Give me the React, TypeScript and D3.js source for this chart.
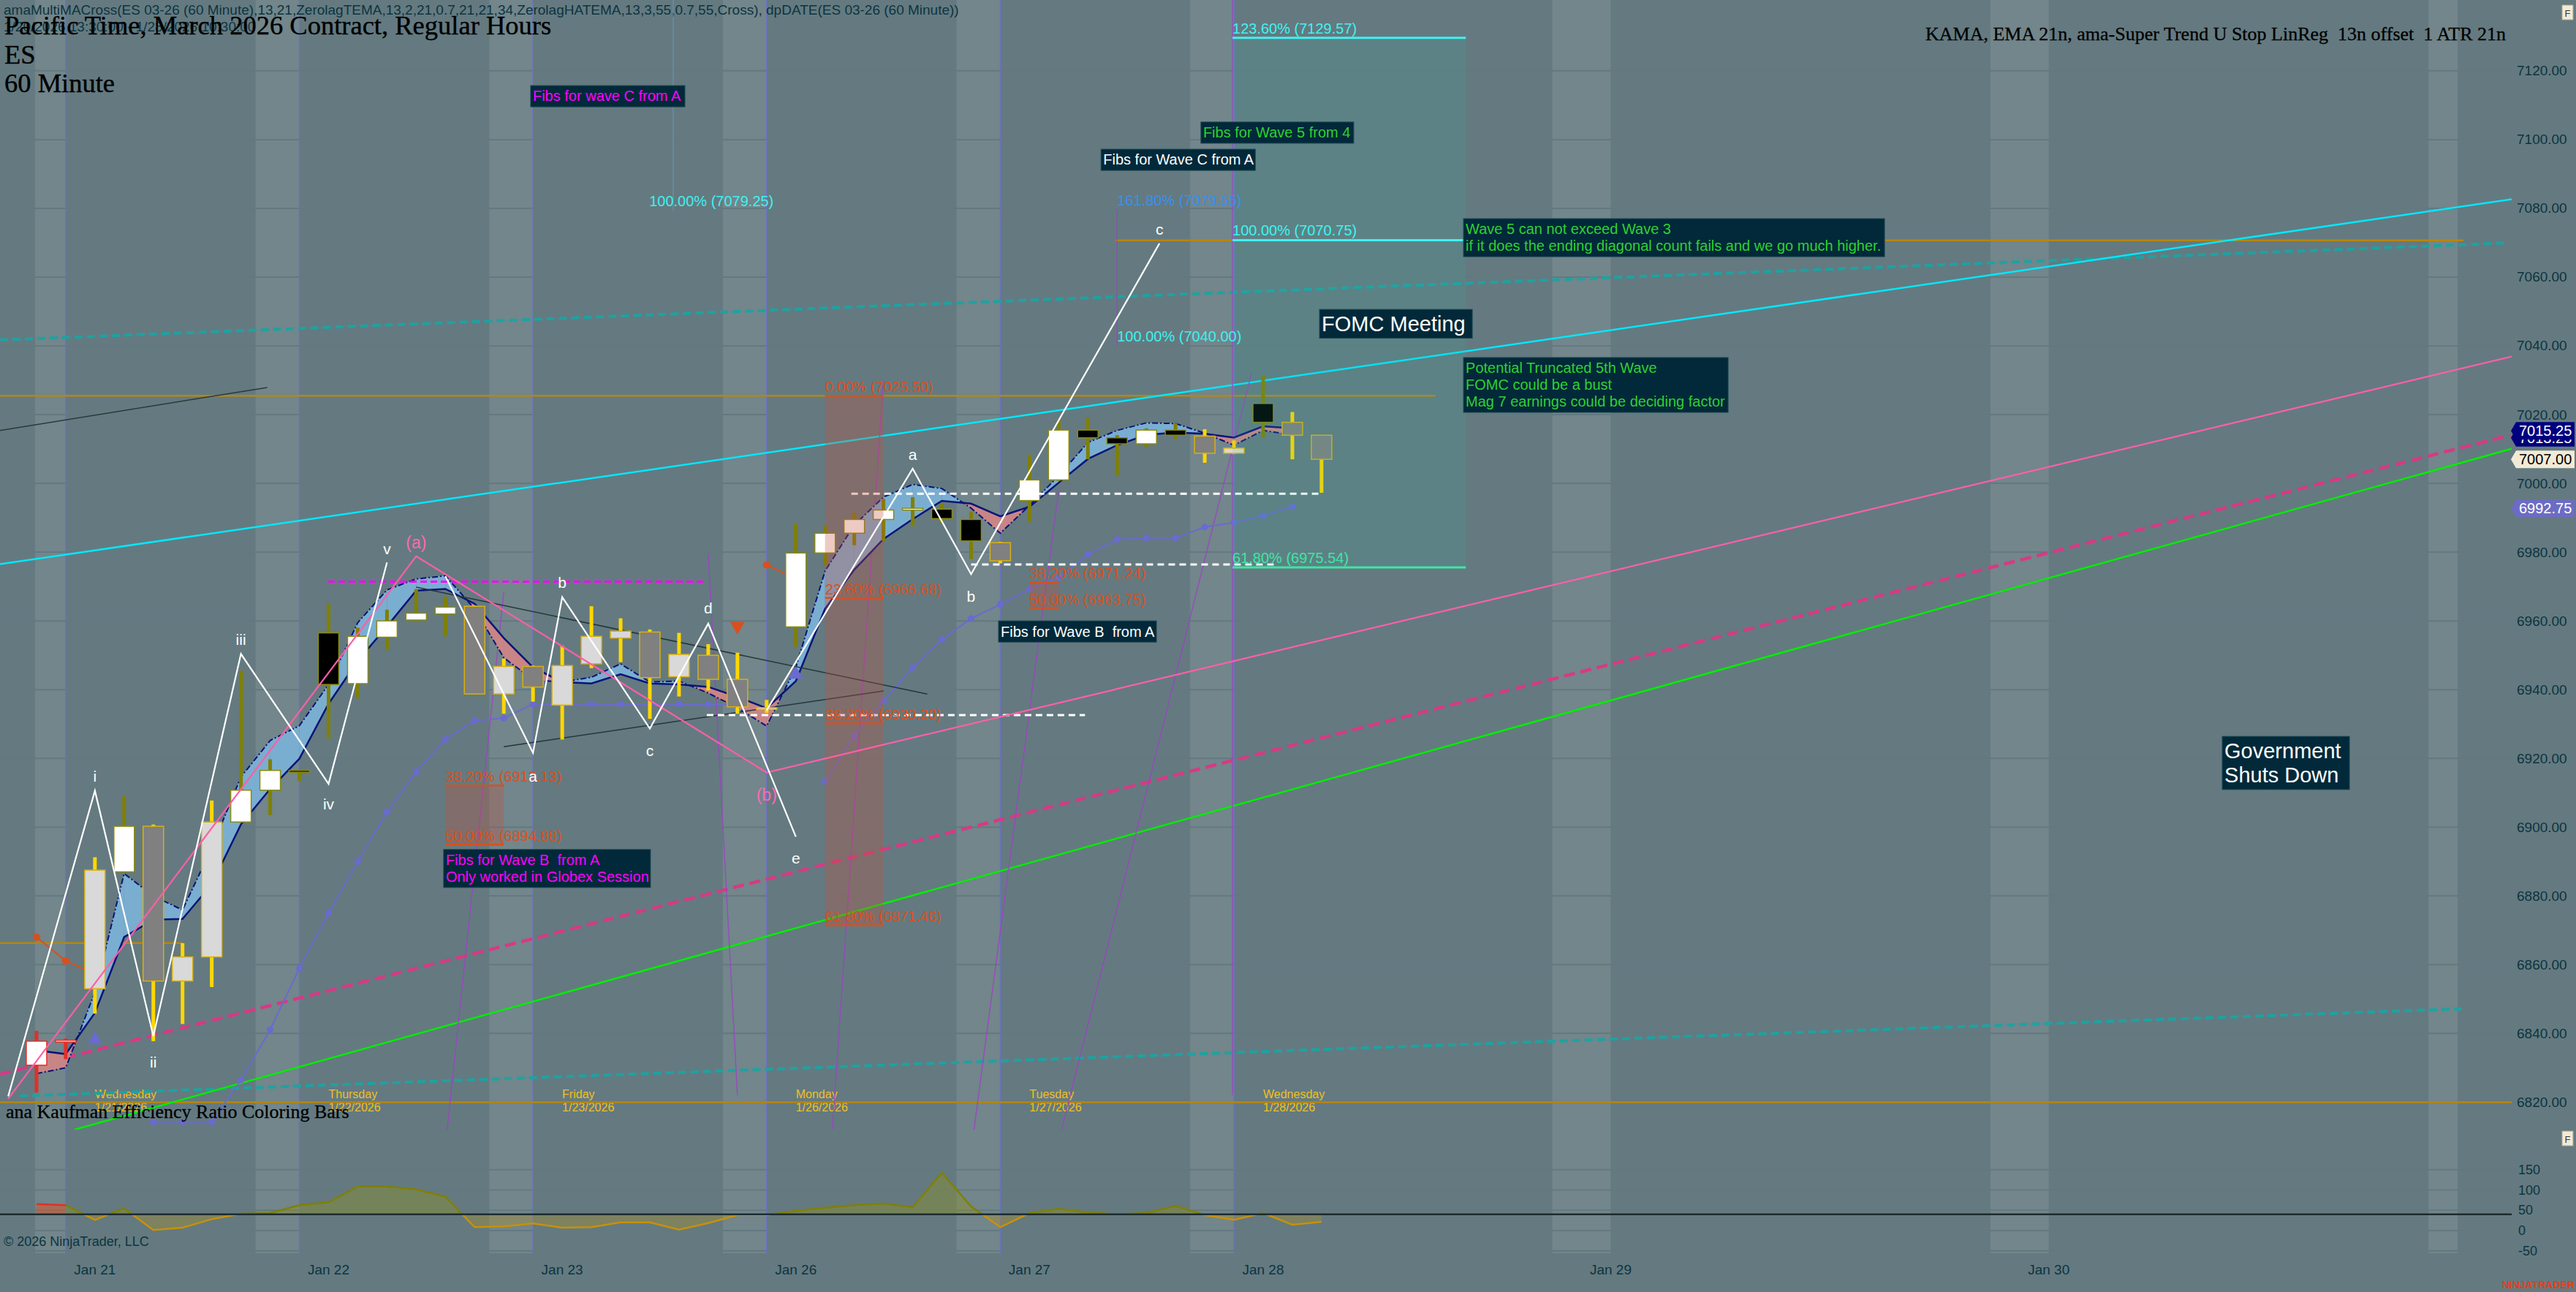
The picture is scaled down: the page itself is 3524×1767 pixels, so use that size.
import React from 'react'
import * as d3 from 'd3'

// ---- bar data (60 minute ES 03-26, regular hours) ----
const opens = [6830.75, 6837.75, 6853, 6887, 6900.25, 6855.25, 6862.25, 6901.5, 6910.75, 6916.5,
  6956.5, 6941.75, 6955.25, 6960.25, 6962, 6964.25, 6938.75, 6946.75, 6935.5, 6947.5,
  6955, 6956.75, 6943.75, 6950, 6943, 6934.5, 6958.25, 6979.75, 6985.5, 6989.5,
  6992.25, 6992.5, 6989.5, 6982.75, 6995, 7001, 7015.5, 7013.25, 7011.5, 7015.5,
  7013.75, 7008.75, 7023.25, 7017.75, 7014]
const highs = [6840.75, 6838.5, 6891.25, 6909, 6900.75, 6866.25, 6907.75, 6945.5, 6919.75, 6916.75,
  6965, 6958, 6963.25, 6969.25, 6967, 6964.5, 6949, 6947, 6952.75, 6964.25,
  6960.75, 6957.5, 6956.5, 6953.25, 6950.75, 6937, 6988.25, 6987.75, 6991.5, 6995.5,
  6996, 6994.25, 6991.75, 6983, 7008.25, 7018.5, 7019, 7014, 7016, 7017.5,
  7015.75, 7012.5, 7031.5, 7020.75, 7014]
const lows = [6822.75, 6832.5, 6845.75, 6886.75, 6837.75, 6842.75, 6853.5, 6901.25, 6903.5, 6913.5,
  6925.75, 6937.5, 6951.5, 6960, 6955.5, 6938.75, 6933, 6936.5, 6925.5, 6946.25,
  6948, 6931.5, 6938, 6939.75, 6933, 6933.25, 6952.5, 6976.25, 6982, 6983.25,
  6987.5, 6988.5, 6978, 6976.75, 6988.75, 7000.75, 7007, 7002.25, 7010.5, 7013,
  7006, 7008.5, 7013.25, 7007, 6997.25]
const closes = [6837.75, 6838, 6887.5, 6900.25, 6855.25, 6862.25, 6901.5, 6910.75, 6916.5, 6916.25,
  6941.5, 6955.5, 6960, 6962.25, 6964, 6938.75, 6946.75, 6940.75, 6947, 6955.5,
  6957, 6943.5, 6950.25, 6943, 6935, 6934.75, 6979.75, 6985.5, 6989.5, 6992.25,
  6992.75, 6989.75, 6983.25, 6977.5, 7001, 7015.5, 7013.25, 7011.5, 7015.5, 7014,
  7008.75, 7010.25, 7017.75, 7014, 7007]
// Kaufman efficiency ratio class per bar: R = start, S = strong, W = weak
const erClass = 'RRWSWWWSSSSSSSSWWWWWWWWWWWSSSSSSSWSSSSSSWWSWW'.split('')

// amaMultiMACross lines
const fastLine = [6828.3, 6830, 6852, 6886.5, 6880, 6875.9, 6894, 6914.6, 6925.2, 6929.5,
  6941.5, 6959.5, 6969, 6972.2, 6973.1, 6963.5, 6949.3, 6942.9, 6942.2, 6943.6,
  6947.5, 6942.2, 6942.5, 6939, 6934.7, 6929.4, 6946.5, 6974.5, 6987.9, 6996,
  6999.7, 6998.5, 6992.8, 6985.5, 6993.6, 7002.2, 7011.9, 7015.4, 7017.6, 7017.4,
  7014.6, 7011.1, 7015.4, 7014.1]
const slowLine = [6835.1, 6834, 6846, 6868, 6873.1, 6873.3, 6883.4, 6900.8, 6911.1, 6919.9,
  6935.9, 6948.4, 6958.4, 6968.8, 6969.3, 6965, 6955, 6946.5, 6942.2, 6941.8,
  6944.5, 6941.8, 6941.5, 6940.8, 6937.9, 6934.6, 6942.5, 6963.5, 6974.9, 6983.8,
  6989.6, 6994.9, 6994.1, 6990.4, 6993.2, 7000.2, 7007.1, 7011.1, 7014.1, 7014.8,
  7014.4, 7013.3, 7016.6, 7016]

// ama-Super Trend stop
const stopValues: (number | null)[] = [null, null, null, null, 6814.25, 6814.25, 6814.25, 6826.4, 6841.1, 6858.9,
  6875, 6890, 6904.4, 6916.1, 6925.5, 6931, 6931.7, 6935.8, 6935.8, 6935.8,
  6935.8, 6935.8, 6935.8, 6935.8, 6935.8, null, null, 6913.3, 6926.6, 6936.7,
  6946.4, 6954.6, 6960.7, 6964.8, 6969.2, 6972.6, 6979.3, 6983.7, 6984.1, 6984.1,
  6987.3, 6988.6, 6990.6, 6993.2, null]
const kamaValues: (number | null)[] = [6868, 6861.1, 6857.3, null, null, null, null, null, null, null,
  null, null, null, null, null, null, null, null, null, null,
  null, null, null, null, null, 6976.3, 6972.3]
const upSignals = [[2, 6838.1], [26, 6944.4]]
const downSignals = [[24, 6958.5]]

// efficiency ratio oscillator (lower panel)
const oscValues = [65.4, 62.5, 26.4, 54.7, 1.2, 7.2, 28.2, 41.4, 43.2, 62.5,
  69.7, 108.7, 108.7, 101.4, 83.4, 8.5, 10.2, 17.5, 7.2, 8.5,
  20.4, 20.4, 2.3, 18.6, 38.4, 38.4, 48.6, 56.4, 62.5, 66.7,
  57.7, 142.3, 59.5, 8.5, 43.2, 53.5, 44.5, 40.2, 43.2, 60.7,
  38.4, 26.4, 43.2, 14.4, 21.6]
const oscLevel = 40
const oscTicks = [150, 100, 50, 0, -50]

// sessions
const sessionStartBars = [1, 9, 17, 25, 33, 41]
const stripeFrom = [-0.05, 7.5, 15.5, 23.5, 31.5, 39.5, 51.9, 66.9, 81.9]
const stripeTo = [1, 9, 17, 25, 33, 41, 53.9, 68.9, 82.9]
const dayLabelBars = [2, 10, 18, 26, 34, 42]
const dayNames = ['Wednesday', 'Thursday', 'Friday', 'Monday', 'Tuesday', 'Wednesday']
const dayDates = ['1/21/2026', '1/22/2026', '1/23/2026', '1/26/2026', '1/27/2026', '1/28/2026']
const dateTickBars = [2, 10, 18, 26, 34, 42, 53.9, 68.9]
const dateTickLabels = ['Jan 21', 'Jan 22', 'Jan 23', 'Jan 26', 'Jan 27', 'Jan 28', 'Jan 29', 'Jan 30']

// elliott wave drawings [bar, price]
const waveImpulse = [[-0.97, 6821.7], [2, 6910.6], [4, 6839.2], [7, 6950.4], [10, 6912.6], [12, 6977]]
const waveTriangle = [[14, 6973], [17, 6921.6], [18, 6966.9], [21, 6928.7], [23, 6959.2], [26, 6897.2]]
const waveABC = [[25, 6934], [30, 7004.3], [32, 6973.6], [38.45, 7069.8]]
const wavePink = [[-0.97, 6821], [13, 6978.8], [25, 6915.9], [84.8, 7037]]
const waveLabels = [
  ['i', 2, 6914.9], ['ii', 4, 6831.6], ['iii', 7, 6954.7], ['iv', 10, 6906.7], ['v', 12, 6980.9],
  ['a', 17, 6914.8], ['b', 18, 6971.1], ['c', 21, 6922.2], ['d', 23, 6963.7], ['e', 26, 6891],
  ['a', 30, 7008.4], ['b', 32, 6967.1], ['c', 38.45, 7073.9],
]
const pinkLabels = [['(a)', 13, 6982.8], ['(b)', 25, 6909.5]]

// trend lines [bar1, price1, bar2, price2]
const cyanLine = [-1.25, 6976.5, 84.8, 7082.7]
const tealUpper = [-1.25, 7041.7, 84.5, 7069.9]
const tealLower = [-0.57, 6821.8, 83.1, 6847.2]
const pinkDashed = [-1.25, 6828.1, 84.7, 7014]
const greenLine = [1.3, 6812, 84.8, 7010.2]
const darkUpperLeft = [-1.25, 7015.4, 7.9, 7027.9]
const triUpper = [13, 6969.8, 30.5, 6938.7]
const triLower = [16, 6923.4, 29, 6939.6]
const purpleLines = [
  [16, 6968.4, 14.06, 6812], [29, 7030, 27.25, 6812], [23, 6979.6, 24, 6822],
  [35, 6998, 32.1, 6812], [41.6, 7032, 35.1, 6812], [37, 7079.55, 37, 7040], [40.95, 7140.6, 40.95, 6822],
]
// horizontal lines [price, bar1, bar2]
const goldLevels = [[6866.3, -1.25, 5], [7025.5, -1.25, 47.9], [7070.7, 36.95, 83.1], [6820, -1.25, 84.75]]
const magentaLevels = [[6971.4, 9.99, 22.95]]
const whiteLevels = [[6932.6, 22.95, 35.9], [6997, 27.9, 44], [6976.4, 32, 42.4]]

// fibonacci drawings
const fibZones = [[14, 16, 6912.13, 6894.88], [27, 29, 7025.5, 6871.46], [34, 35, 6971.24, 6963.75]]
const fibTexts = [
  ['38.20% (6912.13)', 14, 16, 6912.13], ['50.00% (6894.88)', 14, 16, 6894.88],
  ['0.00% (7025.50)', 27, 29, 7025.5], ['23.60% (6966.68)', 27, 29, 6966.68],
  ['38.20% (6930.20)', 27, 29, 6930.2], ['61.80% (6871.46)', 27, 29, 6871.46],
  ['38.20% (6971.24)', 34, 35, 6971.24], ['50.00% (6963.75)', 34, 35, 6963.75],
]
const wave5Zone = [40.95, 48.94, 7129.57, 6975.54]
const wave5Levels = [['123.60% (7129.57)', 7129.57], ['100.00% (7070.75)', 7070.75], ['61.80% (6975.54)', 6975.54]]
const waveCTexts = [['161.80% (7079.55)', 37, 7079.55, '#3a8ff0'], ['100.00% (7040.00)', 37, 7040, '#3ff0f0'], ['100.00% (7079.25)', 20.98, 7079.25, '#3ff0f0']]

// text notes
const notes = [
  { lines: ['Fibs for wave C from A'], bar: 16.92, price: 7115.7, w: 211, color: '#ff00ff', size: 20 },
  { lines: ['Fibs for Wave C from A'], bar: 36.45, price: 7097.2, w: 211, color: '#ffffff', size: 20 },
  { lines: ['Fibs for Wave 5 from 4'], bar: 39.87, price: 7105.1, w: 209, color: '#30d030', size: 20 },
  { lines: ['Wave 5 can not exceed Wave 3', 'if it does the ending diagonal count fails and we go much higher.'], bar: 48.86, price: 7077, w: 576, color: '#30d030', size: 20 },
  { lines: ['FOMC Meeting'], bar: 43.93, price: 7050.6, w: 209, color: '#ffffff', size: 29 },
  { lines: ['Potential Truncated 5th Wave', 'FOMC could be a bust', 'Mag 7 earnings could be deciding factor'], bar: 48.86, price: 7036.6, w: 362, color: '#30d030', size: 20 },
  { lines: ['Government', 'Shuts Down'], bar: 74.84, price: 6926.4, w: 174, color: '#ffffff', size: 29 },
  { lines: ['Fibs for Wave B  from A'], bar: 32.94, price: 6960, w: 216, color: '#ffffff', size: 20 },
  { lines: ['Fibs for Wave B  from A', 'Only worked in Globex Session'], bar: 13.94, price: 6893.5, w: 283, color: '#ff00ff', size: 20 },
]

const priceMarkers = [[7013.25, '7013.25', '#00007a', '#ffffff'], [7015.25, '7015.25', '#000080', '#ffffff'], [7007, '7007.00', '#f3ead6', '#000000'], [6992.75, '6992.75', '#6c6cc4', '#ffffff']]

const W = 3524
const H = 1767
const PLOT_R = 3436
const PRICE_BOTTOM = 1545
const PANEL_BOTTOM = 1714
const SANS = '"Liberation Sans", Arial, sans-serif'
const SERIF = '"Liberation Serif", "Times New Roman", serif'
const AXIS_TEXT = '#0d3441'

export default function App() {
  const x = d3.scaleLinear().domain([-1.25, 84.75]).range([0, PLOT_R])
  const y = d3.scaleLinear().domain([6812, 7140.6]).range([PRICE_BOTTOM, 0])
  const yo = d3.scaleLinear().domain([0, 150]).range([1683, 1599.75])

  const barIdx = d3.range(opens.length)
  const priceTicks = d3.range(6820, 7121, 20)

  const seg = (s: number[]) => ({ x1: x(s[0]), y1: y(s[1]), x2: x(s[2]), y2: y(s[3]) })
  const poly = d3.line<number[]>().x(d => x(d[0])).y(d => y(d[1]))

  // band fill between fast and slow, coloured by which is on top
  const bandPolys: { pts: number[][]; up: boolean }[] = []
  for (let i = 0; i < fastLine.length - 1; i++) {
    const d0 = fastLine[i] - slowLine[i]
    const d1 = fastLine[i + 1] - slowLine[i + 1]
    if (d0 * d1 < 0) {
      const t = d0 / (d0 - d1)
      const pm = fastLine[i] + t * (fastLine[i + 1] - fastLine[i])
      bandPolys.push({ pts: [[i, fastLine[i]], [i + t, pm], [i, slowLine[i]]], up: d0 > 0 })
      bandPolys.push({ pts: [[i + t, pm], [i + 1, fastLine[i + 1]], [i + 1, slowLine[i + 1]]], up: d1 > 0 })
    } else {
      bandPolys.push({ pts: [[i, fastLine[i]], [i + 1, fastLine[i + 1]], [i + 1, slowLine[i + 1]], [i, slowLine[i]]], up: d0 + d1 >= 0 })
    }
  }
  const polyPath = (pts: number[][]) => 'M' + pts.map(p => `${x(p[0])},${y(p[1])}`).join('L') + 'Z'

  const fastPath = d3.line<number>().x((_, i) => x(i)).y(d => y(d))(fastLine) || ''
  const slowPath = d3.line<number>().x((_, i) => x(i)).y(d => y(d))(slowLine) || ''
  const stopLine = d3.line<number | null>().defined(d => d !== null).x((_, i) => x(i)).y(d => y(d as number))
  const oscLine = d3.line<number>().x((_, i) => x(i)).y(d => yo(d))
  const oscArea = d3.area<number>().x((_, i) => x(i)).y0(yo(oscLevel)).y1(d => yo(d))
  const oscRest = oscValues.map((v, i) => (i >= 1 ? v : null))
  const restLine = d3.line<number | null>().defined(d => d !== null).x((_, i) => x(i)).y(d => yo(d as number))
  const restArea = d3.area<number | null>().defined(d => d !== null).x((_, i) => x(i)).y0(yo(oscLevel)).y1(d => yo(d as number))
  const triUp = d3.symbol(d3.symbolTriangle, 170)() || ''

  const olive = '#808000'
  const gold = '#ffd700'
  const red = '#e0302a'

  return (
    <svg width={W} height={H} style={{ position: 'absolute', left: 0, top: 0, background: '#647a80' }} fontFamily={SANS}>
      <defs>
        <clipPath id="pricePane"><rect x={0} y={0} width={PLOT_R} height={PRICE_BOTTOM} /></clipPath>
        <clipPath id="oscAbove"><rect x={0} y={PRICE_BOTTOM} width={PLOT_R} height={yo(oscLevel) - PRICE_BOTTOM} /></clipPath>
        <clipPath id="oscBelow"><rect x={0} y={yo(oscLevel)} width={PLOT_R} height={PANEL_BOTTOM - yo(oscLevel)} /></clipPath>
      </defs>
      <rect x={0} y={0} width={W} height={H} fill="#647a80" />

      {/* session stripes, grid, separators */}
      {stripeFrom.map((s, i) => (
        <rect key={'st' + i} x={x(s)} y={0} width={x(stripeTo[i]) - x(s)} height={PANEL_BOTTOM} fill="#ffffff" opacity={0.09} />
      ))}
      {priceTicks.map(p => <line key={'g' + p} x1={0} x2={PLOT_R} y1={y(p)} y2={y(p)} stroke="#637980" strokeWidth={2} />)}
      {oscTicks.map(v => <line key={'go' + v} x1={0} x2={PLOT_R} y1={yo(v)} y2={yo(v)} stroke="#637980" strokeWidth={2} />)}
      {sessionStartBars.map(b => <line key={'sep' + b} x1={x(b)} x2={x(b)} y1={0} y2={PANEL_BOTTOM} stroke="#6c6cd8" strokeWidth={1.5} opacity={0.75} />)}

      {/* header texts */}
      <text x={5} y={20} fontSize={19} fill={AXIS_TEXT}>amaMultiMACross(ES 03-26 (60 Minute),13,21,ZerolagTEMA,13,2,21,0.7,21,21,34,ZerolagHATEMA,13,3,55,0.7,55,Cross), dpDATE(ES 03-26 (60 Minute))</text>
      <text x={5} y={43} fontSize={19} fill={AXIS_TEXT}>1/20/2026 13:30:00 - 1/28/2026 10:30:00</text>
      <text x={6} y={47} fontSize={36.5} fontFamily={SERIF} fill="#000" stroke="#000" strokeWidth={0.4}>Pacific Time, March 2026 Contract, Regular Hours</text>
      <text x={6} y={87} fontSize={36.5} fontFamily={SERIF} fill="#000" stroke="#000" strokeWidth={0.4}>ES</text>
      <text x={6} y={126} fontSize={36.5} fontFamily={SERIF} fill="#000" stroke="#000" strokeWidth={0.4}>60 Minute</text>
      <text x={3428} y={55} fontSize={26} fontFamily={SERIF} fill="#000" stroke="#000" strokeWidth={0.3} textAnchor="end" style={{ whiteSpace: 'pre' }}>KAMA, EMA 21n, ama-Super Trend U Stop LinReg  13n offset  1 ATR 21n</text>

      <g clipPath="url(#pricePane)">
        {/* day labels */}
        {dayLabelBars.map((b, i) => (
          <g key={'day' + i} fill="#f0c020" fontSize={16}>
            <text x={x(b)} y={1502}>{dayNames[i]}</text>
            <text x={x(b)} y={1520}>{dayDates[i]}</text>
          </g>
        ))}

        {/* horizontal levels */}
        {goldLevels.map((g, i) => <line key={'gl' + i} x1={x(g[1])} x2={x(g[2])} y1={y(g[0])} y2={y(g[0])} stroke="#b8860b" strokeWidth={2.5} />)}

        {/* long trend lines */}
        <line {...seg(tealUpper)} stroke="#1ea2a2" strokeWidth={4} strokeDasharray="11,6" />
        <line {...seg(tealLower)} stroke="#1ea2a2" strokeWidth={4} strokeDasharray="11,6" />
        <line {...seg(cyanLine)} stroke="#00e8ff" strokeWidth={2.5} />
        <line {...seg(pinkDashed)} stroke="#d63a84" strokeWidth={4.5} strokeDasharray="15,8" />
        <line {...seg(greenLine)} stroke="#00ee00" strokeWidth={2.5} />
        <line {...seg(darkUpperLeft)} stroke="#2a3a3a" strokeWidth={1.5} />
        {purpleLines.map((p, i) => <line key={'pl' + i} {...seg(p)} stroke="#a040c8" strokeWidth={1.4} opacity={0.85} />)}
        <line x1={x(21.8)} x2={x(21.8)} y1={0} y2={y(7079.25)} stroke="#6fa0d0" strokeWidth={1.2} opacity={0.6} />

        {/* moving average band */}
        {bandPolys.map((b, i) => <path key={'bp' + i} d={polyPath(b.pts)} fill={b.up ? '#7aaed0' : '#c98585'} />)}
        <path d={slowPath} fill="none" stroke="#0a1478" strokeWidth={2.5} />
        <path d={fastPath} fill="none" stroke="#0a1478" strokeWidth={2} strokeDasharray="8,3,2,3" />

        {/* supertrend stop and kama */}
        <path d={stopLine(stopValues) || ''} fill="none" stroke="#6a6ad0" strokeWidth={2} />
        {stopValues.map((v, i) => v === null ? null : <circle key={'sd' + i} cx={x(i)} cy={y(v)} r={4.5} fill="#6a6ad0" />)}
        <path d={stopLine(kamaValues) || ''} fill="none" stroke="#d8501e" strokeWidth={2} />
        {kamaValues.map((v, i) => v === null ? null : <circle key={'kd' + i} cx={x(i)} cy={y(v)} r={5} fill="#d8501e" />)}

        {/* triangle and dark trendlines, dashed levels */}
        <line {...seg(triUpper)} stroke="#25383a" strokeWidth={1.6} />
        <line {...seg(triLower)} stroke="#25383a" strokeWidth={1.6} />
        {magentaLevels.map((m, i) => <line key={'ml' + i} x1={x(m[1])} x2={x(m[2])} y1={y(m[0])} y2={y(m[0])} stroke="#ff00ff" strokeWidth={3} strokeDasharray="9,5" />)}

        {/* candles */}
        {barIdx.map(i => {
          const o = opens[i], c = closes[i], cls = erClass[i]
          const up = c >= o
          const wick = cls === 'R' ? red : cls === 'S' ? olive : gold
          const edge = cls === 'R' ? red : cls === 'S' ? '#8a8a10' : '#d8b010'
          const body = cls === 'W' ? (up ? '#d9d9d9' : '#808080') : (up ? '#ffffff' : '#000000')
          const top = y(Math.max(o, c))
          const bot = y(Math.min(o, c))
          return (
            <g key={'c' + i}>
              <rect x={x(i) - 2.5} y={y(highs[i])} width={5} height={y(lows[i]) - y(highs[i])} fill={wick} />
              <rect x={x(i) - 14} y={top} width={28} height={Math.max(bot - top, 2.5)} fill={body} stroke={edge} strokeWidth={1.5} />
            </g>
          )
        })}

        {upSignals.map((s, i) => <path key={'us' + i} d={triUp} transform={`translate(${x(s[0])},${y(s[1])})`} fill="#6a6ad0" />)}
        {downSignals.map((s, i) => <path key={'ds' + i} d={triUp} transform={`translate(${x(s[0])},${y(s[1])}) rotate(180)`} fill="#d8501e" />)}

        {whiteLevels.map((w, i) => <line key={'wl' + i} x1={x(w[1])} x2={x(w[2])} y1={y(w[0])} y2={y(w[0])} stroke="#ffffff" strokeWidth={3} strokeDasharray="9,6" />)}

        {/* fib zones (translucent, over candles) */}
        {fibZones.map((f, i) => (
          <rect key={'fz' + i} x={x(f[0])} y={y(f[2])} width={x(f[1]) - x(f[0])} height={y(f[3]) - y(f[2])} fill="rgb(200,80,60)" opacity={0.3} />
        ))}
        <rect x={x(wave5Zone[0])} y={y(wave5Zone[2])} width={x(wave5Zone[1]) - x(wave5Zone[0])} height={y(wave5Zone[3]) - y(wave5Zone[2])} fill="rgb(40,190,170)" opacity={0.12} />
        {fibTexts.map((f, i) => (
          <g key={'ft' + i}>
            <line x1={x(f[1] as number)} x2={x(f[2] as number)} y1={y(f[3] as number)} y2={y(f[3] as number)} stroke="#d8501e" strokeWidth={2.5} />
            <text x={x(f[1] as number)} y={y(f[3] as number) - 5} fontSize={20} fill="#d8501e">{f[0]}</text>
          </g>
        ))}
        {wave5Levels.map((l, i) => {
          const col = i === 2 ? '#3ee6a4' : '#3ff2f2'
          return (
            <g key={'w5' + i}>
              <line x1={x(wave5Zone[0])} x2={x(wave5Zone[1])} y1={y(l[1] as number)} y2={y(l[1] as number)} stroke={col} strokeWidth={3} />
              <text x={x(wave5Zone[0])} y={y(l[1] as number) - 6} fontSize={20} fill={col}>{l[0]}</text>
            </g>
          )
        })}
        {waveCTexts.map((t, i) => (
          <text key={'wc' + i} x={x(t[1] as number)} y={y(t[2] as number) - 6} fontSize={20} fill={t[3] as string}>{t[0]}</text>
        ))}

        {/* wave drawings */}
        <path d={poly(wavePink) || ''} fill="none" stroke="#ff5fa8" strokeWidth={2.2} />
        <path d={poly(waveImpulse) || ''} fill="none" stroke="#ffffff" strokeWidth={2.2} />
        <path d={poly(waveTriangle) || ''} fill="none" stroke="#ffffff" strokeWidth={2.2} />
        <path d={poly(waveABC) || ''} fill="none" stroke="#ffffff" strokeWidth={2.2} />
        {waveLabels.map((l, i) => (
          <text key={'wv' + i} x={x(l[1] as number)} y={y(l[2] as number)} fontSize={21} fill="#ffffff" textAnchor="middle" dominantBaseline="central">{l[0]}</text>
        ))}
        {pinkLabels.map((l, i) => (
          <text key={'pk' + i} x={x(l[1] as number)} y={y(l[2] as number)} fontSize={23} fill="#ff69b4" textAnchor="middle" dominantBaseline="central">{l[0]}</text>
        ))}

        {/* notes */}
        {notes.map((n, i) => {
          const lh = n.size * 1.15
          const left = x(n.bar)
          const top = y(n.price)
          return (
            <g key={'n' + i}>
              <rect x={left} y={top} width={n.w} height={n.lines.length * lh + 6} fill="#02293a" stroke="#1a4550" strokeWidth={1} />
              {n.lines.map((t, j) => (
                <text key={j} x={left + 3} y={top + 3 + n.size * 0.92 + j * lh} fontSize={n.size} fill={n.color} style={{ whiteSpace: 'pre' }}>{t}</text>
              ))}
            </g>
          )
        })}
      </g>

      <text x={8} y={1529} fontSize={26} fontFamily={SERIF} fill="#000" stroke="#000" strokeWidth={0.3}>ana Kaufman Efficiency Ratio Coloring Bars</text>

      {/* oscillator panel */}
      <path d={oscArea(oscValues) || ''} fill="rgb(150,150,20)" opacity={0.35} clipPath="url(#oscAbove)" />
      <path d={restArea(oscRest) || ''} fill="rgb(190,150,20)" opacity={0.3} clipPath="url(#oscBelow)" />
      <path d={oscArea(oscValues.slice(0, 2)) || ''} fill="rgb(220,70,70)" opacity={0.45} />
      <path d={restLine(oscRest) || ''} fill="none" stroke={olive} strokeWidth={2.5} clipPath="url(#oscAbove)" />
      <path d={restLine(oscRest) || ''} fill="none" stroke="#c8900a" strokeWidth={2.5} clipPath="url(#oscBelow)" />
      <path d={oscLine(oscValues.slice(0, 2)) || ''} fill="none" stroke={red} strokeWidth={2.5} />
      <line x1={0} x2={PLOT_R} y1={yo(oscLevel)} y2={yo(oscLevel)} stroke="#1e2c2e" strokeWidth={2.5} />
      <text x={5} y={1704} fontSize={18} fill={AXIS_TEXT}>© 2026 NinjaTrader, LLC</text>

      {/* price axis */}
      {priceTicks.map(p => (
        <text key={'pt' + p} x={3443} y={y(p)} fontSize={19} fill={AXIS_TEXT} dominantBaseline="central">{p.toFixed(2)}</text>
      ))}
      {oscTicks.map(v => (
        <text key={'ot' + v} x={3445} y={yo(v)} fontSize={18} fill={AXIS_TEXT} dominantBaseline="central">{v}</text>
      ))}
      {priceMarkers.map((m, i) => {
        const cy = y(m[0] as number)
        return (
          <g key={'pm' + i}>
            <path d={`M${3435},${cy} L${3442},${cy - 12} L${3522},${cy - 12} L${3522},${cy + 12} L${3442},${cy + 12} Z`} fill={m[2] as string} />
            <text x={3446} y={cy} fontSize={20} fill={m[3] as string} dominantBaseline="central">{m[1]}</text>
          </g>
        )
      })}
      <rect x={3505} y={7} width={15} height={20} fill="#f3ead6" stroke="#b0a890" />
      <text x={3512.5} y={18} fontSize={13} fill="#333" textAnchor="middle" dominantBaseline="central">F</text>
      <rect x={3505} y={1547} width={15} height={20} fill="#f3ead6" stroke="#b0a890" />
      <text x={3512.5} y={1558} fontSize={13} fill="#333" textAnchor="middle" dominantBaseline="central">F</text>

      {/* date axis */}
      {dateTickBars.map((b, i) => (
        <text key={'dt' + i} x={x(b)} y={1743} fontSize={19} fill={AXIS_TEXT} textAnchor="middle">{dateTickLabels[i]}</text>
      ))}
      <text x={3522} y={1762} fontSize={14} fontWeight="bold" fill="#e0401a" textAnchor="end">NINJATRADER</text>
    </svg>
  )
}
